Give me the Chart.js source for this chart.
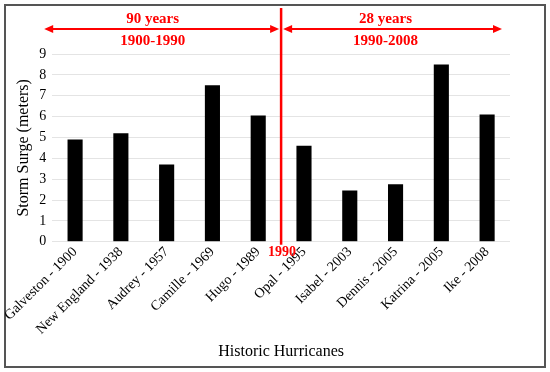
<!DOCTYPE html>
<html>
<head>
<meta charset="utf-8">
<script src="https://cdn.jsdelivr.net/npm/chart.js@4/dist/chart.umd.min.js"></script>
<style>
  body { margin: 0; background: #fff; }
  #wrap { width: 550px; height: 372px; position: relative; }
</style>
</head>
<body>
<div id="wrap"><canvas id="myChart" width="550" height="372"></canvas></div>
<script>
var hurricanes = ['Galveston - 1900', 'New England - 1938', 'Audrey - 1957', 'Camille - 1969', 'Hugo - 1989',
    'Opal - 1995', 'Isabel - 2003', 'Dennis - 2005', 'Katrina - 2005', 'Ike - 2008'];
var surge = [4.9, 5.2, 3.7, 7.5, 6.05, 4.6, 2.45, 2.75, 8.5, 6.1];
var periodLabels = ['90 years', '28 years'];
var periodRanges = ['1900-1990', '1990-2008'];
var splitLabel = '1990';
var splitAfter = 4; // line goes between Hugo and Opal

var serif = '"Liberation Serif", "Times New Roman", serif';
var red = '#ff0000';

// red divider, arrows and the period texts
var periodsPlugin = {
    id: 'periods',
    beforeDraw: function (chart) {
        var ctx = chart.ctx;
        ctx.save();
        ctx.strokeStyle = '#555';
        ctx.lineWidth = 2;
        ctx.strokeRect(5, 5, 540, 362);
        ctx.restore();
    },
    afterDraw: function (chart) {
        var ctx = chart.ctx;
        var x = chart.scales.x;
        var area = chart.chartArea;
        var xs = (x.getPixelForValue(splitAfter) + x.getPixelForValue(splitAfter + 1)) / 2;
        var left = area.left - 8;
        var right = area.right - 8;
        var ay = 29;

        ctx.save();
        ctx.strokeStyle = red;
        ctx.fillStyle = red;

        ctx.lineWidth = 2.5;
        ctx.beginPath();
        ctx.moveTo(xs, 8);
        ctx.lineTo(xs, area.bottom + 3);
        ctx.stroke();

        ctx.lineWidth = 2;
        ctx.beginPath();
        ctx.moveTo(left + 4, ay);
        ctx.lineTo(xs - 5, ay);
        ctx.moveTo(xs + 5, ay);
        ctx.lineTo(right - 4, ay);
        ctx.stroke();

        function head(px, dir) {
            ctx.beginPath();
            ctx.moveTo(px, ay);
            ctx.lineTo(px - dir * 9, ay - 4);
            ctx.lineTo(px - dir * 9, ay + 4);
            ctx.closePath();
            ctx.fill();
        }
        head(left, -1);
        head(xs - 2, 1);
        head(xs + 2, -1);
        head(right, 1);

        ctx.font = 'bold 15px ' + serif;
        ctx.textAlign = 'center';
        ctx.textBaseline = 'middle';
        var c1 = (left + xs) / 2 - 10;
        var c2 = (xs + right) / 2 - 6;
        ctx.fillText(periodLabels[0], c1, 19);
        ctx.fillText(periodRanges[0], c1, 41);
        ctx.fillText(periodLabels[1], c2, 19);
        ctx.fillText(periodRanges[1], c2, 41);

        ctx.font = 'bold 14px ' + serif;
        ctx.fillText(splitLabel, xs + 1, area.bottom + 11);
        ctx.restore();
    }
};

var ctx = document.getElementById('myChart');

var myChart = new Chart(ctx, {
    type: 'bar',
    data: {
        labels: hurricanes,
        datasets: [{
            label: 'Storm Surge (meters)',
            data: surge,
            backgroundColor: '#000',
            borderWidth: 0,
            barPercentage: 0.33,
            categoryPercentage: 1
        }]
    },
    options: {
        responsive: false,
        animation: false,
        layout: { padding: { top: 54, left: 14, right: 40, bottom: 11 } },
        plugins: {
            legend: { display: false },
            tooltip: { enabled: false }
        },
        scales: {
            y: {
                min: 0,
                max: 9,
                ticks: { stepSize: 1, autoSkip: false, color: '#000', font: { family: serif, size: 14 }, padding: 6 },
                grid: { color: '#e4e4e4', drawTicks: false },
                border: { display: false },
                title: { display: true, text: 'Storm Surge (meters)', color: '#000', font: { family: serif, size: 16 }, padding: 0 }
            },
            x: {
                ticks: { color: '#000', font: { family: serif, size: 14 }, minRotation: 45, maxRotation: 45, padding: -6 },
                grid: { display: false },
                border: { display: false },
                title: { display: true, text: 'Historic Hurricanes', color: '#000', font: { family: serif, size: 16 }, padding: { top: 10, bottom: 0 } }
            }
        }
    },
    plugins: [periodsPlugin]
});
</script>
</body>
</html>
